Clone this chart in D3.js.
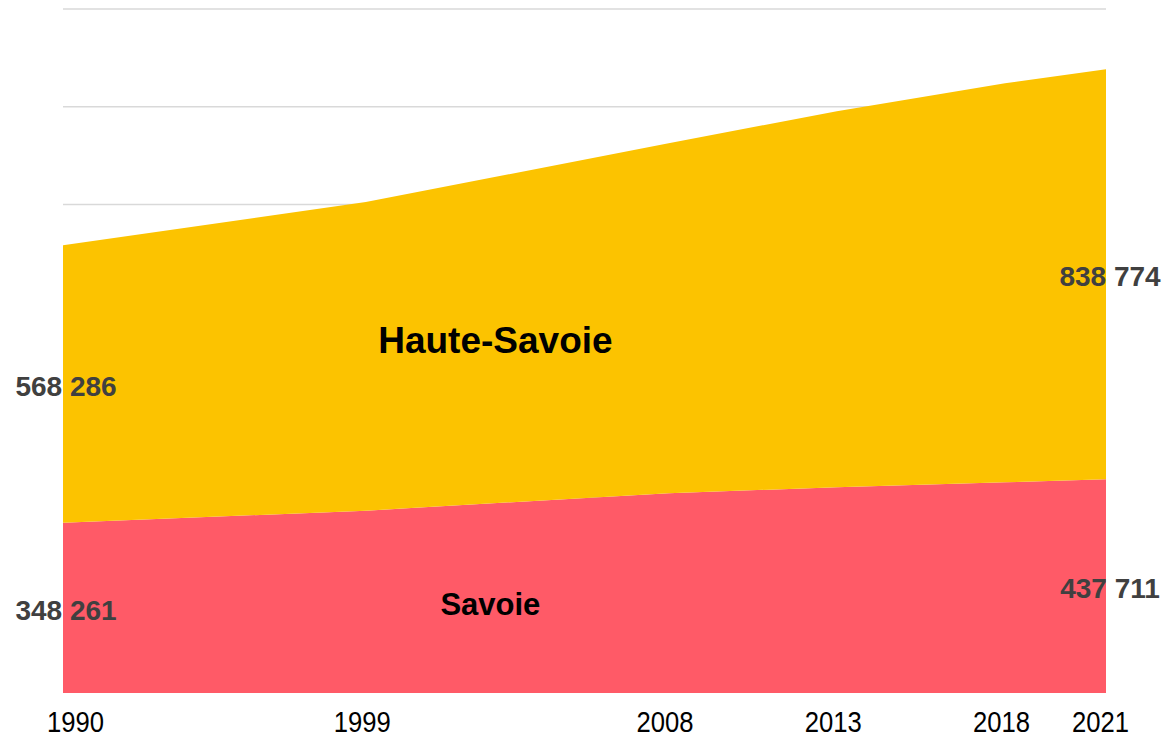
<!DOCTYPE html>
<html>
<head>
<meta charset="utf-8">
<script src="https://cdn.jsdelivr.net/npm/d3@7"></script>
<style>
  body { margin: 0; background: #fff; }
  svg { display: block; }
</style>
</head>
<body>
<div id="chart"></div>
<script>
// years and population values
var years = [1990, 1999, 2008, 2013, 2018, 2021];
var savoie = [348261, 373258, 408800, 421100, 431200, 437711];
var hauteSavoie = [568286, 631679, 716300, 769700, 816700, 838774];
var seriesNames = ["Savoie", "Haute-Savoie"];
var seriesColors = ["#FF5A67", "#FCC300"];
var yTicks = [0, 200000, 400000, 600000, 800000, 1000000, 1200000, 1400000];
var labelYear = 2003;

var W = 1170, H = 741;
var margin = { top: 9, right: 64, bottom: 48, left: 63 };

var svg = d3.select("#chart").append("svg")
    .attr("width", W)
    .attr("height", H);

var x = d3.scaleLinear()
    .domain([years[0], years[years.length - 1]])
    .range([margin.left, W - margin.right]);

var y = d3.scaleLinear()
    .domain([0, 1400000])
    .range([H - margin.bottom, margin.top]);

var table = years.map(function (yr, i) {
    return { year: yr, "Savoie": savoie[i], "Haute-Savoie": hauteSavoie[i] };
});

var stacked = d3.stack().keys(seriesNames)(table);

// gridlines
svg.append("g")
    .selectAll("line")
    .data(yTicks.slice(1))
    .enter()
    .append("line")
    .attr("x1", x.range()[0])
    .attr("x2", x.range()[1])
    .attr("y1", function (d) { return y(d); })
    .attr("y2", function (d) { return y(d); })
    .attr("stroke", "#D9D9D9")
    .attr("stroke-width", 1.5);

var area = d3.area()
    .x(function (d) { return x(d.data.year); })
    .y0(function (d) { return y(d[0]); })
    .y1(function (d) { return y(d[1]); });

svg.append("g")
    .selectAll("path")
    .data(stacked)
    .enter()
    .append("path")
    .attr("d", area)
    .attr("fill", function (d, i) { return seriesColors[i]; });

// x axis labels (narrow look)
var xAxis = svg.append("g")
    .attr("transform", "translate(0," + (H - margin.bottom) + ")")
    .call(d3.axisBottom(x).tickValues(years).tickFormat(d3.format("d")).tickSize(0));
xAxis.select(".domain").remove();
xAxis.selectAll("text")
    .attr("dy", 0)
    .attr("y", 39)
    .attr("dx", function (d, i) { return i === 0 ? 12 : (i === years.length - 1 ? -6 : -4); })
    .attr("textLength", 57)
    .attr("lengthAdjust", "spacingAndGlyphs")
    .style("font-family", "'Liberation Sans Narrow', 'Liberation Sans', sans-serif")
    .style("font-size", "29px")
    .attr("fill", "#000");

// value labels at both ends
var fmt = function (v) { return d3.format(",")(v).replace(/,/g, " "); };
var ends = [0, years.length - 1];
stacked.forEach(function (s) {
    ends.forEach(function (idx) {
        var d = s[idx];
        svg.append("text")
            .attr("x", x(d.data.year) + (idx === 0 ? 3 : 4))
            .attr("y", y((d[0] + d[1]) / 2) + 2)
            .attr("dy", "0.36em")
            .attr("text-anchor", "middle")
            .style("font-family", "'Liberation Sans', Arial, sans-serif")
            .style("font-weight", "bold")
            .style("font-size", "28px")
            .attr("fill", "#404040")
            .text(fmt(d.data[s.key]));
    });
});

// series name labels
var li = d3.bisectLeft(years, labelYear);
stacked.forEach(function (s, i) {
    var a = s[li - 1], b = s[li];
    var t = (labelYear - a.data.year) / (b.data.year - a.data.year);
    var lo = a[0] + (b[0] - a[0]) * t;
    var hi = a[1] + (b[1] - a[1]) * t;
    svg.append("text")
        .attr("x", x(labelYear) - (i === 0 ? 10 : 5))
        .attr("y", y((lo + hi) / 2) + (i === 0 ? 6 : 0))
        .attr("dy", "0.36em")
        .attr("text-anchor", "middle")
        .style("font-family", "'Liberation Sans', Arial, sans-serif")
        .style("font-weight", "bold")
        .style("font-size", i === 0 ? "31px" : "37px")
        .attr("fill", "#000")
        .text(s.key);
});
</script>
</body>
</html>
